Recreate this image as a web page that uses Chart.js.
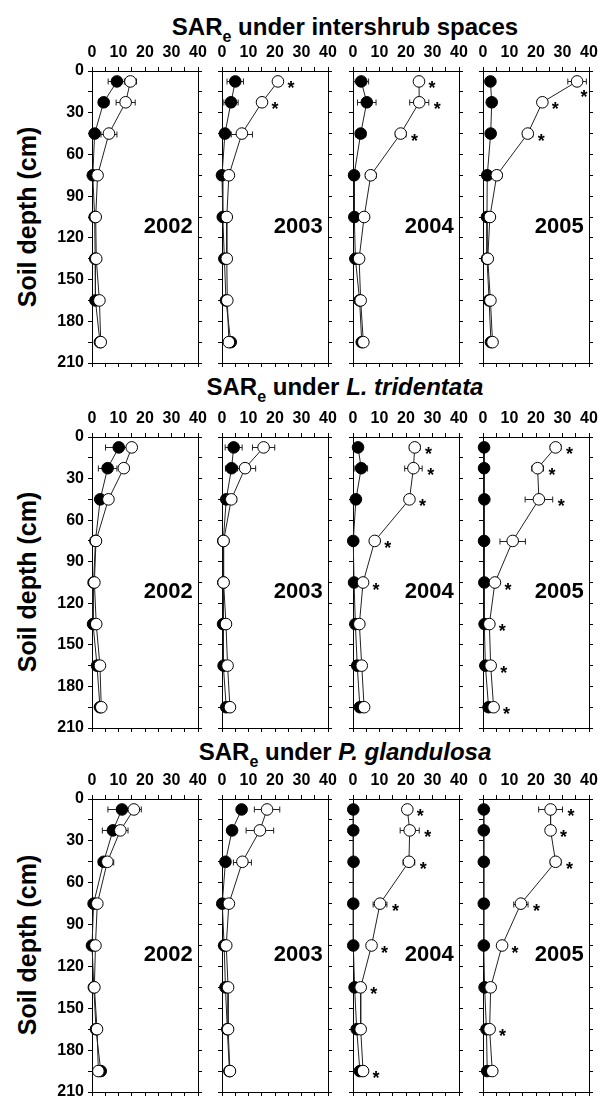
<!DOCTYPE html>
<html lang="en">
<head>
<meta charset="UTF-8">
<title>SARe by soil depth</title>
<script src="https://cdn.jsdelivr.net/npm/chart.js"></script>
<style>
  html, body { margin: 0; padding: 0; background: #fff; }
  body { width: 600px; height: 1100px; position: relative; overflow: hidden;
    font-family: 'Liberation Sans', Arial, sans-serif; color: #000; }
  .title { position: absolute; left: 345px; transform: translate(-50%, -50%);
    font-weight: bold; font-size: 24px; white-space: nowrap; }
  .title sub { font-size: 16px; vertical-align: -7px; line-height: 0; }
  .ylab { position: absolute; left: 27px; transform: translate(-50%, -50%) rotate(-90deg);
    font-weight: bold; font-size: 25px; white-space: nowrap; }
  canvas { position: absolute; }
</style>
</head>
<body>
<div class="title" style="top:27px">SAR<sub>e</sub> under intershrub spaces</div>
<div class="title" style="top:387px">SAR<sub>e</sub> under <i>L. tridentata</i></div>
<div class="title" style="top:752px">SAR<sub>e</sub> under <i>P. glandulosa</i></div>
<div class="ylab" style="top:217px">Soil depth (cm)</div>
<div class="ylab" style="top:582px">Soil depth (cm)</div>
<div class="ylab" style="top:945px">Soil depth (cm)</div>

<script>
// depth of each sample (cm) and year of each column
const depths = [7.5, 22.5, 45, 75, 105, 135, 165, 195];
const years = ['2002', '2003', '2004', '2005'];
const depthTicks = [0, 30, 60, 90, 120, 150, 180, 210];
const sarTicks = [0, 10, 20, 30, 40];

// intershrub spaces, one row per year
const interSolid = [
  [9.4, 4.4, 1.0, 0.3, 1.0, 1.2, 1.3, 3.0],
  [5.0, 3.4, 1.1, 0.0, 0.3, 0.9, 1.5, 3.3],
  [3.1, 5.2, 2.9, 0.4, 0.5, 0.9, 2.5, 3.3],
  [2.8, 3.3, 2.9, 1.6, 1.5, 1.5, 2.3, 3.0]
];
const interOpen = [
  [14.5, 12.7, 6.4, 2.1, 1.4, 1.6, 2.8, 3.3],
  [21.1, 15.1, 7.5, 2.6, 1.8, 1.8, 2.0, 2.6],
  [24.9, 25.0, 18.0, 6.7, 4.2, 2.3, 2.9, 3.9],
  [35.5, 22.4, 16.9, 5.2, 2.6, 1.8, 2.8, 3.6]
];
const interSolidErr = [
  [3.3, 1.9, 0, 0, 0, 0, 0, 0],
  [3.1, 2.7, 0, 0, 0, 0, 0, 0],
  [2.8, 3.5, 1.9, 0, 0, 0, 0, 0],
  [0.8, 1.0, 0, 0, 0, 0, 0, 0]
];
const interOpenErr = [
  [2.3, 3.6, 3.0, 0, 0, 0, 0, 0],
  [0, 0, 4.0, 0, 0, 0, 0, 0],
  [0, 3.6, 2.0, 2.0, 0, 0, 0, 0],
  [3.5, 0, 1.9, 1.9, 0, 0, 0, 0]
];
const interStar = [
  [0, 0, 0, 0, 0, 0, 0, 0],
  [1, 1, 0, 0, 0, 0, 0, 0],
  [1, 1, 1, 0, 0, 0, 0, 0],
  [1, 1, 1, 0, 0, 0, 0, 0]
];

// under L. tridentata
const larreaSolid = [
  [10.1, 5.9, 3.1, 1.3, 0.6, 0.4, 1.9, 3.0],
  [4.4, 3.6, 1.6, 0.5, 0.5, 0.4, 0.6, 1.6],
  [1.9, 3.1, 1.1, 0.1, 0.4, 0.9, 1.6, 2.6],
  [0.4, 0.4, 0.5, 0.4, 0.5, 0.6, 0.9, 2.1]
];
const larreaOpen = [
  [15.0, 12.0, 6.2, 1.5, 0.9, 1.6, 3.0, 3.5],
  [15.7, 8.7, 3.5, 0.6, 0.6, 1.5, 2.1, 3.0],
  [23.3, 22.8, 21.3, 8.2, 3.8, 2.4, 3.3, 4.2],
  [27.4, 20.6, 21.1, 11.2, 4.5, 2.4, 2.9, 4.0]
];
const larreaSolidErr = [
  [5.0, 3.5, 1.8, 0, 0, 0, 0, 0],
  [3.2, 2.3, 0, 0, 0, 0, 0, 0],
  [0, 2.4, 0, 0, 0, 0, 0, 0],
  [0, 0, 0, 0, 0, 0, 0, 0]
];
const larreaOpenErr = [
  [0, 0, 1.6, 0, 0, 0, 0, 0],
  [4.2, 4.0, 2.0, 0, 0, 0, 0, 0],
  [2.0, 3.3, 1.4, 0, 0, 0, 0, 0],
  [2.0, 2.2, 5.2, 4.8, 0, 0, 0, 0]
];
const larreaStar = [
  [0, 0, 0, 0, 0, 0, 0, 0],
  [0, 0, 0, 0, 0, 0, 0, 0],
  [1, 1, 1, 1, 1, 0, 0, 0],
  [1, 1, 1, 0, 1, 1, 1, 1]
];

// under P. glandulosa
const prosopisSolid = [
  [11.3, 7.9, 4.4, 0.6, 0.0, 0.7, 1.5, 3.3],
  [7.4, 3.8, 1.3, 0.1, 0.8, 1.3, 2.0, 2.8],
  [0.1, 0.1, 0.2, 0.1, 0.1, 0.6, 1.4, 2.6],
  [0.3, 0.3, 0.3, 0.3, 0.3, 0.6, 1.3, 1.6]
];
const prosopisOpen = [
  [15.8, 10.7, 5.8, 2.0, 1.3, 0.9, 1.9, 2.4],
  [17.0, 14.3, 7.7, 2.6, 1.6, 2.3, 2.3, 3.0],
  [20.5, 21.4, 21.1, 10.2, 7.0, 2.9, 2.9, 3.8],
  [25.5, 25.5, 27.4, 14.3, 7.2, 2.9, 2.5, 3.5]
];
const prosopisSolidErr = [
  [5.3, 4.0, 2.0, 0, 0, 0, 0, 0],
  [0, 0, 0, 0, 0, 0, 0, 0],
  [0, 0, 0, 0, 0, 0, 0, 0],
  [0, 0, 0, 0, 0, 0, 0, 0]
];
const prosopisOpenErr = [
  [2.8, 2.9, 2.4, 0, 0, 0, 0, 0],
  [4.8, 5.2, 3.4, 0, 0, 0, 0, 0],
  [0, 3.6, 2.2, 2.6, 0, 0, 0, 0],
  [4.5, 0, 2.0, 2.7, 0, 0, 0, 0]
];
const prosopisStar = [
  [0, 0, 0, 0, 0, 0, 0, 0],
  [0, 0, 0, 0, 0, 0, 0, 0],
  [1, 1, 1, 1, 1, 1, 0, 1],
  [1, 1, 1, 1, 1, 0, 1, 0]
];

const rows = [
  { solid: interSolid, open: interOpen, solidErr: interSolidErr, openErr: interOpenErr, star: interStar },
  { solid: larreaSolid, open: larreaOpen, solidErr: larreaSolidErr, openErr: larreaOpenErr, star: larreaStar },
  { solid: prosopisSolid, open: prosopisOpen, solidErr: prosopisSolidErr, openErr: prosopisOpenErr, star: prosopisStar }
];

// page layout of the plot areas
const colLeft = [92, 222, 353, 483];
const rowTop = [71, 437, 799];
const plotW = 106;
const plotH = [292, 291, 293];

Chart.defaults.font.family = "'Liberation Sans', Arial, sans-serif";
Chart.defaults.color = '#000';

const FONT = "'Liberation Sans', Arial, sans-serif";

const marks = {
  id: 'marks',
  beforeDatasetsDraw(chart, args, opts) {
    const ctx = chart.ctx, xs = chart.scales.x, ys = chart.scales.y;
    ctx.save();
    ctx.strokeStyle = '#222';
    ctx.lineWidth = 1;
    chart.data.datasets.forEach((ds, di) => {
      const err = opts.err[di];
      ds.data.forEach((p, i) => {
        if (!err[i]) return;
        const py = Math.round(ys.getPixelForValue(p.y)) + 0.5;
        const a = xs.getPixelForValue(p.x - err[i]);
        const b = xs.getPixelForValue(p.x + err[i]);
        ctx.beginPath();
        ctx.moveTo(a, py); ctx.lineTo(b, py);
        ctx.moveTo(a, py - 3); ctx.lineTo(a, py + 3);
        ctx.moveTo(b, py - 3); ctx.lineTo(b, py + 3);
        ctx.stroke();
      });
    });
    ctx.restore();
  },
  afterDatasetsDraw(chart, args, opts) {
    const ctx = chart.ctx, xs = chart.scales.x, ys = chart.scales.y, area = chart.chartArea;
    ctx.save();
    ctx.fillStyle = '#000';
    // asterisks next to the open series
    const open = chart.data.datasets[1].data;
    const err = opts.err[1];
    ctx.font = 'bold 18px ' + FONT;
    ctx.textAlign = 'center';
    ctx.textBaseline = 'alphabetic';
    open.forEach((p, i) => {
      if (!opts.star[i]) return;
      let px = Math.max(xs.getPixelForValue(p.x) + 13, xs.getPixelForValue(p.x + err[i]) + 8.5);
      let py = ys.getPixelForValue(p.y) + 13;
      if (px > area.right - 4) { px = area.right - 5; py += 9; }
      ctx.fillText('*', px, py);
    });
    // year label
    ctx.font = 'bold 22px ' + FONT;
    ctx.textAlign = 'right';
    ctx.textBaseline = 'middle';
    ctx.fillText(opts.year, xs.getPixelForValue(38), ys.getPixelForValue(112));
    ctx.restore();
  }
};

function makePanel(r, c) {
  const first = c === 0;
  const yW = first ? 50 : 8, rightW = 12, topH = 40, botH = 8;
  const w = yW + plotW + rightW, h = topH + plotH[r] + botH;
  const cv = document.createElement('canvas');
  cv.width = w; cv.height = h;
  cv.style.width = w + 'px'; cv.style.height = h + 'px';
  cv.style.left = (colLeft[c] - yW) + 'px';
  cv.style.top = (rowTop[r] - topH) + 'px';
  document.body.appendChild(cv);

  const set = rows[r];
  const grid = { drawOnChartArea: false, drawTicks: true, tickLength: 4, color: '#000', lineWidth: 1 };
  const border = { display: true, color: '#000', width: 1 };
  const fitX = hh => s => { s.height = hh; s.paddingLeft = 0; s.paddingRight = 0; };
  const fitY = ww => s => { s.width = ww; s.paddingTop = 0; s.paddingBottom = 0; };

  new Chart(cv, {
    type: 'scatter',
    data: {
      datasets: [
        {
          data: depths.map((d, i) => ({ x: set.solid[c][i], y: d })),
          order: 2,
          showLine: true, borderColor: '#222', borderWidth: 1,
          pointRadius: 5.8, pointBackgroundColor: '#000', pointBorderColor: '#000', pointBorderWidth: 1,
          clip: false
        },
        {
          data: depths.map((d, i) => ({ x: set.open[c][i], y: d })),
          order: 1,
          showLine: true, borderColor: '#222', borderWidth: 1,
          pointRadius: 5.8, pointBackgroundColor: '#fff', pointBorderColor: '#000', pointBorderWidth: 1,
          clip: false
        }
      ]
    },
    options: {
      responsive: false,
      animation: false,
      events: [],
      layout: { padding: 0 },
      plugins: {
        legend: { display: false },
        tooltip: { enabled: false },
        marks: { year: years[c], star: set.star[c], err: [set.solidErr[c], set.openErr[c]] }
      },
      scales: {
        x: {
          type: 'linear', position: 'top', min: 0, max: 40,
          grid: grid, border: border,
          ticks: {
            stepSize: 5, autoSkip: false, maxRotation: 0, padding: 5,
            font: { size: 16, weight: 'bold' },
            callback: v => sarTicks.includes(v) ? String(v) : ''
          },
          afterFit: fitX(topH)
        },
        x2: {
          type: 'linear', position: 'bottom', min: 0, max: 40,
          grid: grid, border: border,
          ticks: { stepSize: 5, display: false },
          afterFit: fitX(botH)
        },
        y: {
          type: 'linear', position: 'left', min: 0, max: 210, reverse: true,
          grid: grid, border: border,
          ticks: {
            display: first, stepSize: 15, autoSkip: false, padding: 4,
            font: { size: 16, weight: 'bold' },
            callback: v => depthTicks.includes(v) ? String(v) : ''
          },
          afterFit: fitY(yW)
        },
        y2: {
          type: 'linear', position: 'right', min: 0, max: 210, reverse: true,
          grid: grid, border: border,
          ticks: { stepSize: 15, display: false },
          afterFit: fitY(rightW)
        }
      }
    },
    plugins: [marks]
  });
}

for (let r = 0; r < 3; r++) {
  for (let c = 0; c < 4; c++) makePanel(r, c);
}
</script>
</body>
</html>
